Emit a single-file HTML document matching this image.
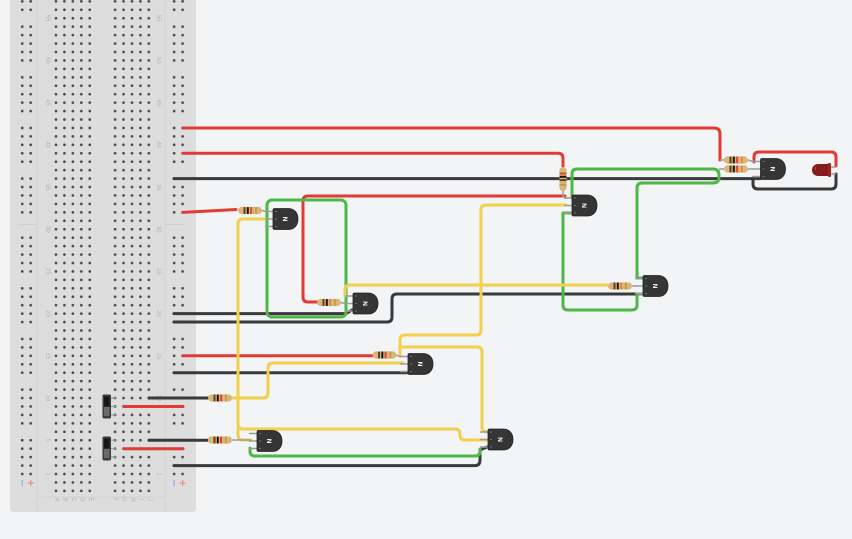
<!DOCTYPE html>
<html><head><meta charset="utf-8"><style>
html,body{margin:0;padding:0;background:#f3f4f6;}
svg{display:block;font-family:"Liberation Sans",sans-serif;}
</style></head><body>
<svg width="852" height="539" viewBox="0 0 852 539" xmlns="http://www.w3.org/2000/svg">
<defs>
<pattern id="h" x="51.78" y="469.78" width="8.44" height="8.44" patternUnits="userSpaceOnUse"><circle cx="4.22" cy="4.22" r="1.35" fill="#4a4a4a"/></pattern>
</defs>
<rect width="852" height="539" fill="#f3f4f6"/>
<!-- breadboard -->
<rect x="10" y="-10" width="186" height="522" rx="4" fill="#dddddd"/>
<line x1="37" y1="-10" x2="37" y2="512" stroke="#d2d2d2" stroke-width="1"/>
<line x1="165" y1="-10" x2="165" y2="512" stroke="#d2d2d2" stroke-width="1"/>
<line x1="18" y1="224.5" x2="37" y2="224.5" stroke="#cfcfcf" stroke-width="1"/>
<line x1="165" y1="224.5" x2="185" y2="224.5" stroke="#cfcfcf" stroke-width="1"/>
<line x1="37" y1="497" x2="165" y2="497" stroke="#d4d4d4" stroke-width="1"/>
<rect x="51.78" y="-11.3" width="42.2" height="506.4" fill="url(#h)"/>
<rect x="110.86" y="-11.3" width="42.2" height="506.4" fill="url(#h)"/>
<g fill="url(#h)">
<rect x="18.02" y="436.02" width="16.88" height="42.2"/>
<rect x="18.02" y="385.38" width="16.88" height="42.2"/>
<rect x="18.02" y="334.74" width="16.88" height="42.2"/>
<rect x="18.02" y="284.1" width="16.88" height="42.2"/>
<rect x="18.02" y="233.46" width="16.88" height="42.2"/>
<rect x="18.02" y="174.38" width="16.88" height="42.2"/>
<rect x="18.02" y="123.74" width="16.88" height="42.2"/>
<rect x="18.02" y="73.1" width="16.88" height="42.2"/>
<rect x="18.02" y="22.46" width="16.88" height="42.2"/>
<rect x="18.02" y="-11.3" width="16.88" height="25.3"/>
<rect x="169.94" y="436.02" width="16.88" height="42.2"/>
<rect x="169.94" y="385.38" width="16.88" height="42.2"/>
<rect x="169.94" y="334.74" width="16.88" height="42.2"/>
<rect x="169.94" y="284.1" width="16.88" height="42.2"/>
<rect x="169.94" y="233.46" width="16.88" height="42.2"/>
<rect x="169.94" y="174.38" width="16.88" height="42.2"/>
<rect x="169.94" y="123.74" width="16.88" height="42.2"/>
<rect x="169.94" y="73.1" width="16.88" height="42.2"/>
<rect x="169.94" y="22.46" width="16.88" height="42.2"/>
<rect x="169.94" y="-11.3" width="16.88" height="25.3"/>
</g>
<g font-size="6" fill="#b3b3b3" text-anchor="middle" dominant-baseline="central">
<text transform="translate(47,474) rotate(90)">1</text>
<text transform="translate(47,440.2) rotate(90)">5</text>
<text transform="translate(47,398) rotate(90)">10</text>
<text transform="translate(47,355.8) rotate(90)">15</text>
<text transform="translate(47,313.6) rotate(90)">20</text>
<text transform="translate(47,271.4) rotate(90)">25</text>
<text transform="translate(47,229.2) rotate(90)">30</text>
<text transform="translate(47,187) rotate(90)">35</text>
<text transform="translate(47,144.8) rotate(90)">40</text>
<text transform="translate(47,102.6) rotate(90)">45</text>
<text transform="translate(47,60.4) rotate(90)">50</text>
<text transform="translate(47,18.2) rotate(90)">55</text>
<text transform="translate(158,474) rotate(90)">1</text>
<text transform="translate(158,440.2) rotate(90)">5</text>
<text transform="translate(158,398) rotate(90)">10</text>
<text transform="translate(158,355.8) rotate(90)">15</text>
<text transform="translate(158,313.6) rotate(90)">20</text>
<text transform="translate(158,271.4) rotate(90)">25</text>
<text transform="translate(158,229.2) rotate(90)">30</text>
<text transform="translate(158,187) rotate(90)">35</text>
<text transform="translate(158,144.8) rotate(90)">40</text>
<text transform="translate(158,102.6) rotate(90)">45</text>
<text transform="translate(158,60.4) rotate(90)">50</text>
<text transform="translate(158,18.2) rotate(90)">55</text>
<text transform="translate(56,499.5) rotate(90)">A</text>
<text transform="translate(64.4,499.5) rotate(90)">B</text>
<text transform="translate(72.9,499.5) rotate(90)">C</text>
<text transform="translate(81.3,499.5) rotate(90)">D</text>
<text transform="translate(89.8,499.5) rotate(90)">E</text>
<text transform="translate(115,499.5) rotate(90)">F</text>
<text transform="translate(123.4,499.5) rotate(90)">G</text>
<text transform="translate(131.9,499.5) rotate(90)">H</text>
<text transform="translate(140.3,499.5) rotate(90)">I</text>
<text transform="translate(148.8,499.5) rotate(90)">J</text>
</g>
<g stroke-width="1.2">
<line x1="22.2" y1="480" x2="22.2" y2="486" stroke="#8eaee0"/>
<line x1="174.2" y1="480" x2="174.2" y2="486" stroke="#8eaee0"/>
<path d="M27.7,483 H33.7 M30.7,480 V486 M179.6,483 H185.6 M182.6,480 V486" stroke="#ec8a85"/>
</g>
<!-- switches -->
<g>
<path d="M110.5,398 H116 M110.5,406.5 H116 M110.5,415 H116 M110.5,440.2 H116 M110.5,448.7 H116 M110.5,457 H116" stroke="#999" stroke-width="1.2"/>
<rect x="102.5" y="394.5" width="8.5" height="24" rx="1.5" fill="#3c3c3c"/>
<rect x="104" y="396.5" width="5.5" height="10" fill="#161616"/>
<rect x="104" y="407" width="5.5" height="9" fill="#6a6a6a"/>
<rect x="102.5" y="436.5" width="8.5" height="24" rx="1.5" fill="#3c3c3c"/>
<rect x="104" y="438.5" width="5.5" height="10" fill="#161616"/>
<rect x="104" y="449" width="5.5" height="9" fill="#6a6a6a"/>
</g>
<!-- wires -->
<g fill="none" stroke-width="3" stroke-linecap="round" stroke-linejoin="round">
<g stroke="#e23b36">
<path d="M183,128 H714 Q720,128 720,134 V160"/>
<path d="M183,153.3 H558 Q563,153.3 563,158 V166"/>
<path d="M183,212.4 L236,209.5"/>
<path d="M317,302 H308 Q303,302 303,297 V201 Q303,196 308,196 H565"/>
<path d="M183,355.8 H372"/>
<path d="M124,406.5 H183"/>
<path d="M124,448.7 H183"/>
<path d="M754,162 V157 Q754,152 759,152 H831 Q836,152 836,157 V166"/>
</g>
<g stroke="#3a3a3a">
<path d="M174,178.6 H760"/>
<path d="M753,178 V184 Q753,189 758,189 H831 Q836,189 836,184 V174"/>
<path d="M174,313.6 H346 L352,310"/>
<path d="M174,322 H387 Q392,322 392,317 V299 Q392,294 397,294 H641"/>
<path d="M174,372.7 H407"/>
<path d="M149,398 H208"/>
<path d="M149,440.2 H208"/>
<path d="M174,465.6 H475 Q480,465.6 480,460 V450 L487,447"/>
</g>
<g stroke="#4db846">
<rect x="267" y="200" width="79" height="117" rx="5"/>
<path d="M572,197 V174 Q572,169 577,169 H713 Q719,169 719,175 V177 Q719,183 713,183 H642 Q637,183 637,188 V278 H643"/>
<path d="M571,213 H563 V305 Q563,310 568,310 H632 Q637,310 637,305 V294 H642"/>
<path d="M250,448 V451 Q250,456 255,456 H475 Q480,456 480,451 V449"/>
</g>
<g stroke="#f2d04b">
<path d="M265,219 H243 Q238,219 238,224 V424 Q238,429 243,429 H455 Q460,429 460,434 V435 Q460,440 465,440 H488"/>
<path d="M238,428 V435 Q238,440 243,440 H251"/>
<path d="M232,398 H263 Q268,398 268,393 V368 Q268,363 273,363 H403"/>
<path d="M400,355 V340 Q400,335 405,335 H476 Q481,335 481,330 V210 Q481,205 486,205 H566"/>
<path d="M403,347 H477 Q482,347 482,352 V427 Q482,432 488,432"/>
<path d="M345,296 V290 Q345,285 350,285 H607"/>
</g>
</g>
<!-- leads -->
<g stroke="#9c9c9c" stroke-width="1.5" fill="none">
<path d="M262,210.5 L266,211.5"/>
<path d="M340,302.5 L346,303.5"/>
<path d="M563,191 V196 L565,197"/>
<path d="M720,160 H724 M748,160 L754,162 M719,169 H724 M748,169 H754"/>
<path d="M632,286 H637"/>
<path d="M396,355 L401,357"/>
<path d="M232,440 H251"/>
<path d="M831,167 H836 M831,174 H836"/>
</g>
<!-- resistors -->
<g>
<g transform="translate(250,210.5)"><rect x="-12" y="-3.6" width="24" height="7.2" rx="3.6" fill="#d9b679"/><rect x="-6.5" y="-3.4" width="2" height="6.8" fill="#6b3f1e"/><rect x="-3.2" y="-3.4" width="2" height="6.8" fill="#151515"/><rect x="0.1" y="-3.4" width="2" height="6.8" fill="#e0452e"/><rect x="5" y="-3.4" width="1.8" height="6.8" fill="#c49a45"/></g>
<g transform="translate(329,302.5)"><rect x="-12" y="-3.6" width="24" height="7.2" rx="3.6" fill="#d9b679"/><rect x="-6.5" y="-3.4" width="2" height="6.8" fill="#6b3f1e"/><rect x="-3.2" y="-3.4" width="2" height="6.8" fill="#151515"/><rect x="0.1" y="-3.4" width="2" height="6.8" fill="#e8863a"/><rect x="5" y="-3.4" width="1.8" height="6.8" fill="#c49a45"/></g>
<g transform="translate(563,179) rotate(90)"><rect x="-12" y="-3.6" width="24" height="7.2" rx="3.6" fill="#d9b679"/><rect x="-6.5" y="-3.4" width="2" height="6.8" fill="#e0452e"/><rect x="-3.2" y="-3.4" width="2" height="6.8" fill="#151515"/><rect x="0.1" y="-3.4" width="2" height="6.8" fill="#6b3f1e"/><rect x="5" y="-3.4" width="1.8" height="6.8" fill="#c49a45"/></g>
<g transform="translate(736,160)"><rect x="-12" y="-3.6" width="24" height="7.2" rx="3.6" fill="#d9b679"/><rect x="-6.5" y="-3.4" width="2" height="6.8" fill="#6b3f1e"/><rect x="-3.2" y="-3.4" width="2" height="6.8" fill="#151515"/><rect x="0.1" y="-3.4" width="2" height="6.8" fill="#e0452e"/><rect x="5" y="-3.4" width="1.8" height="6.8" fill="#e8863a"/></g>
<g transform="translate(736,169)"><rect x="-12" y="-3.6" width="24" height="7.2" rx="3.6" fill="#d9b679"/><rect x="-6.5" y="-3.4" width="2" height="6.8" fill="#6b3f1e"/><rect x="-3.2" y="-3.4" width="2" height="6.8" fill="#151515"/><rect x="0.1" y="-3.4" width="2" height="6.8" fill="#e0452e"/><rect x="5" y="-3.4" width="1.8" height="6.8" fill="#e8863a"/></g>
<g transform="translate(620,286)"><rect x="-12" y="-3.6" width="24" height="7.2" rx="3.6" fill="#d9b679"/><rect x="-6.5" y="-3.4" width="2" height="6.8" fill="#6b3f1e"/><rect x="-3.2" y="-3.4" width="2" height="6.8" fill="#151515"/><rect x="0.1" y="-3.4" width="2" height="6.8" fill="#e8863a"/><rect x="5" y="-3.4" width="1.8" height="6.8" fill="#c49a45"/></g>
<g transform="translate(384.5,355)"><rect x="-12" y="-3.6" width="24" height="7.2" rx="3.6" fill="#d9b679"/><rect x="-6.5" y="-3.4" width="2" height="6.8" fill="#6b3f1e"/><rect x="-3.2" y="-3.4" width="2" height="6.8" fill="#151515"/><rect x="0.1" y="-3.4" width="2" height="6.8" fill="#e0452e"/><rect x="5" y="-3.4" width="1.8" height="6.8" fill="#c49a45"/></g>
<g transform="translate(220,398)"><rect x="-12" y="-3.6" width="24" height="7.2" rx="3.6" fill="#d9b679"/><rect x="-6.5" y="-3.4" width="2" height="6.8" fill="#6b3f1e"/><rect x="-3.2" y="-3.4" width="2" height="6.8" fill="#151515"/><rect x="0.1" y="-3.4" width="2" height="6.8" fill="#e0452e"/><rect x="5" y="-3.4" width="1.8" height="6.8" fill="#c49a45"/></g>
<g transform="translate(220,440)"><rect x="-12" y="-3.6" width="24" height="7.2" rx="3.6" fill="#d9b679"/><rect x="-6.5" y="-3.4" width="2" height="6.8" fill="#6b3f1e"/><rect x="-3.2" y="-3.4" width="2" height="6.8" fill="#151515"/><rect x="0.1" y="-3.4" width="2" height="6.8" fill="#e0452e"/><rect x="5" y="-3.4" width="1.8" height="6.8" fill="#c49a45"/></g>
</g>
<!-- transistors -->
<g font-size="6.5" font-weight="bold" fill="#fff">
<g transform="translate(273,208.5)"><path d="M-8,3 H0 M-8,10.5 H0 M-8,18 H0" stroke="#9c9c9c" stroke-width="1.5"/><path d="M0,1.5 Q0,0 1.5,0 H15 C21,0 25,4 25,10.5 C25,17 21,21 15,21 H1.5 Q0,21 0,19.5 Z" fill="#353535" stroke="#242424" stroke-width="0.8"/><path d="M2,3 H4 M2,10.5 H4 M2,18 H4" stroke="#888" stroke-width="0.8"/><text x="13" y="10.5" transform="rotate(-90 13 10.5)" text-anchor="middle" dominant-baseline="central">N</text></g>
<g transform="translate(353,293)"><path d="M-8,3 H0 M-8,10.5 H0 M-8,18 H0" stroke="#9c9c9c" stroke-width="1.5"/><path d="M0,1.5 Q0,0 1.5,0 H15 C21,0 25,4 25,10.5 C25,17 21,21 15,21 H1.5 Q0,21 0,19.5 Z" fill="#353535" stroke="#242424" stroke-width="0.8"/><path d="M2,3 H4 M2,10.5 H4 M2,18 H4" stroke="#888" stroke-width="0.8"/><text x="13" y="10.5" transform="rotate(-90 13 10.5)" text-anchor="middle" dominant-baseline="central">N</text></g>
<g transform="translate(572,195)"><path d="M-8,3 H0 M-8,10.5 H0 M-8,18 H0" stroke="#9c9c9c" stroke-width="1.5"/><path d="M0,1.5 Q0,0 1.5,0 H15 C21,0 25,4 25,10.5 C25,17 21,21 15,21 H1.5 Q0,21 0,19.5 Z" fill="#353535" stroke="#242424" stroke-width="0.8"/><path d="M2,3 H4 M2,10.5 H4 M2,18 H4" stroke="#888" stroke-width="0.8"/><text x="13" y="10.5" transform="rotate(-90 13 10.5)" text-anchor="middle" dominant-baseline="central">N</text></g>
<g transform="translate(643,275.5)"><path d="M-8,3 H0 M-8,10.5 H0 M-8,18 H0" stroke="#9c9c9c" stroke-width="1.5"/><path d="M0,1.5 Q0,0 1.5,0 H15 C21,0 25,4 25,10.5 C25,17 21,21 15,21 H1.5 Q0,21 0,19.5 Z" fill="#353535" stroke="#242424" stroke-width="0.8"/><path d="M2,3 H4 M2,10.5 H4 M2,18 H4" stroke="#888" stroke-width="0.8"/><text x="13" y="10.5" transform="rotate(-90 13 10.5)" text-anchor="middle" dominant-baseline="central">N</text></g>
<g transform="translate(760.5,158.5)"><path d="M-8,3 H0 M-8,10.5 H0 M-8,18 H0" stroke="#9c9c9c" stroke-width="1.5"/><path d="M0,1.5 Q0,0 1.5,0 H15 C21,0 25,4 25,10.5 C25,17 21,21 15,21 H1.5 Q0,21 0,19.5 Z" fill="#353535" stroke="#242424" stroke-width="0.8"/><path d="M2,3 H4 M2,10.5 H4 M2,18 H4" stroke="#888" stroke-width="0.8"/><text x="13" y="10.5" transform="rotate(-90 13 10.5)" text-anchor="middle" dominant-baseline="central">N</text></g>
<g transform="translate(408,353.5)"><path d="M-8,3 H0 M-8,10.5 H0 M-8,18 H0" stroke="#9c9c9c" stroke-width="1.5"/><path d="M0,1.5 Q0,0 1.5,0 H15 C21,0 25,4 25,10.5 C25,17 21,21 15,21 H1.5 Q0,21 0,19.5 Z" fill="#353535" stroke="#242424" stroke-width="0.8"/><path d="M2,3 H4 M2,10.5 H4 M2,18 H4" stroke="#888" stroke-width="0.8"/><text x="13" y="10.5" transform="rotate(-90 13 10.5)" text-anchor="middle" dominant-baseline="central">N</text></g>
<g transform="translate(257,430.5)"><path d="M-8,3 H0 M-8,10.5 H0 M-8,18 H0" stroke="#9c9c9c" stroke-width="1.5"/><path d="M0,1.5 Q0,0 1.5,0 H15 C21,0 25,4 25,10.5 C25,17 21,21 15,21 H1.5 Q0,21 0,19.5 Z" fill="#353535" stroke="#242424" stroke-width="0.8"/><path d="M2,3 H4 M2,10.5 H4 M2,18 H4" stroke="#888" stroke-width="0.8"/><text x="13" y="10.5" transform="rotate(-90 13 10.5)" text-anchor="middle" dominant-baseline="central">N</text></g>
<g transform="translate(488,429)"><path d="M-8,3 H0 M-8,10.5 H0 M-8,18 H0" stroke="#9c9c9c" stroke-width="1.5"/><path d="M0,1.5 Q0,0 1.5,0 H15 C21,0 25,4 25,10.5 C25,17 21,21 15,21 H1.5 Q0,21 0,19.5 Z" fill="#353535" stroke="#242424" stroke-width="0.8"/><path d="M2,3 H4 M2,10.5 H4 M2,18 H4" stroke="#888" stroke-width="0.8"/><text x="13" y="10.5" transform="rotate(-90 13 10.5)" text-anchor="middle" dominant-baseline="central">N</text></g>
</g>
<!-- LED -->
<g>
<path d="M819,164 H829 V176 H819 C813,176 812,172 812,170 C812,168 813,164 819,164 Z" fill="#861b1b"/>
<rect x="828" y="163" width="3" height="14" rx="1" fill="#9b2222"/>
<path d="M816,166.5 Q815,168 815.5,170" stroke="#b04040" stroke-width="1" fill="none"/>
</g>
</svg>
</body></html>
